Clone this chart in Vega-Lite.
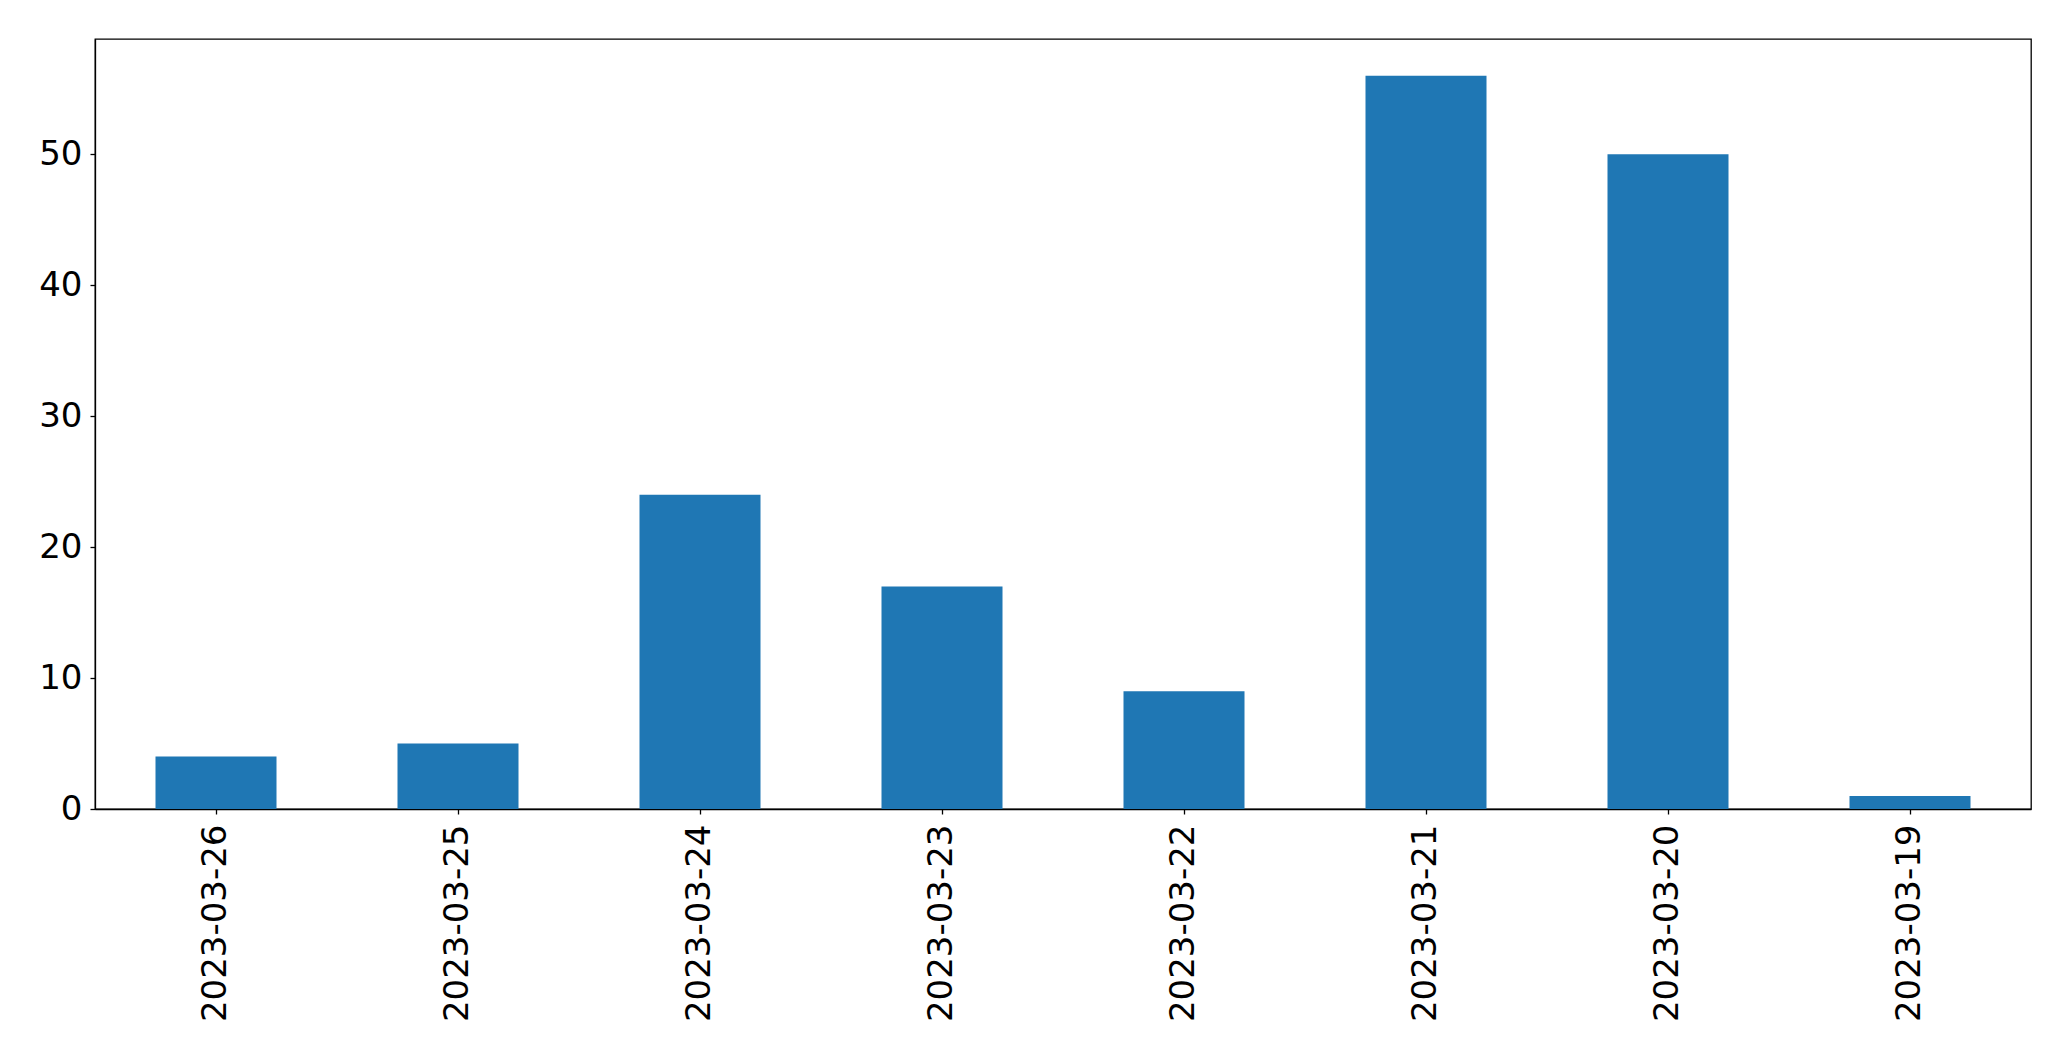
{
  "$schema": "https://vega.github.io/schema/vega-lite/v6.json",
  "autosize": {"type": "none"},
  "padding": {"left": 95, "top": 39, "right": 40, "bottom": 252},
  "width": 1936,
  "height": 770,
  "background": "white",
  "config": {
    "view": {"stroke": "black", "strokeWidth": 1.3},
    "font": "DejaVu Sans"
  },
  "data": {
    "values": [
      {"date": "2023-03-26", "count": 4},
      {"date": "2023-03-25", "count": 5},
      {"date": "2023-03-24", "count": 24},
      {"date": "2023-03-23", "count": 17},
      {"date": "2023-03-22", "count": 9},
      {"date": "2023-03-21", "count": 56},
      {"date": "2023-03-20", "count": 50},
      {"date": "2023-03-19", "count": 1}
    ]
  },
  "mark": {"type": "bar", "color": "#1f77b4"},
  "encoding": {
    "x": {
      "field": "date",
      "type": "nominal",
      "sort": null,
      "scale": {"paddingInner": 0.5, "paddingOuter": 0.25},
      "axis": {
        "title": null,
        "labelAngle": -90,
        "labelAlign": "right",
        "labelBaseline": "middle",
        "labelFontSize": 34,
        "labelLimit": 1000,
        "labelColor": "black",
        "labelFont": "DejaVu Sans",
        "labelPadding": 10,
        "tickColor": "black",
        "tickSize": 5,
        "tickWidth": 1.3,
        "domainColor": "black",
        "domainWidth": 1.3,
        "grid": false
      }
    },
    "y": {
      "field": "count",
      "type": "quantitative",
      "scale": {"domain": [0, 58.8], "nice": false},
      "axis": {
        "title": null,
        "values": [0, 10, 20, 30, 40, 50],
        "labelFontSize": 34,
        "labelColor": "black",
        "labelFont": "DejaVu Sans",
        "labelPadding": 8,
        "tickColor": "black",
        "tickSize": 5,
        "tickWidth": 1.3,
        "domainColor": "black",
        "domainWidth": 1.3,
        "grid": false
      }
    }
  }
}
